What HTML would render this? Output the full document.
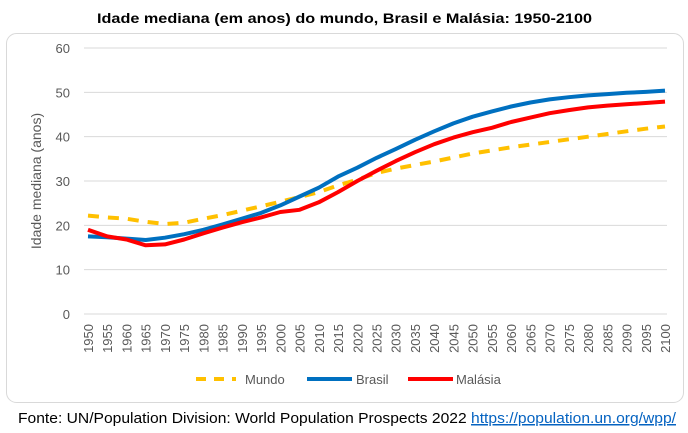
<!DOCTYPE html>
<html><head><meta charset="utf-8"><style>
body{margin:0;width:688px;height:433px;background:#fff;font-family:"Liberation Sans",sans-serif;overflow:hidden;position:relative}
</style></head><body>
<svg width="688" height="433" style="position:absolute;left:0;top:0">
<text x="97" y="23" textLength="495" lengthAdjust="spacingAndGlyphs" font-weight="bold" font-size="14" fill="#000">Idade mediana (em anos) do mundo, Brasil e Malásia: 1950-2100</text>
<rect x="6.5" y="33.5" width="677" height="369" rx="10" fill="none" stroke="#d9d9d9"/>
<g id="grid"></g><g id="yt"></g><g id="xt"></g><g id="lines"></g>
<text transform="translate(41,181) rotate(-90)" text-anchor="middle" font-size="14" fill="#595959">Idade mediana (anos)</text>
<g>
<line x1="196" y1="379" x2="236" y2="379" stroke="#ffc000" stroke-width="4" stroke-dasharray="10,8"/>
<text x="245" y="384" font-size="13" fill="#595959">Mundo</text>
<line x1="307" y1="379" x2="352" y2="379" stroke="#0070c0" stroke-width="4"/>
<text x="356" y="384" font-size="13" fill="#595959">Brasil</text>
<line x1="408" y1="379" x2="453" y2="379" stroke="#ff0000" stroke-width="4"/>
<text x="456" y="384" font-size="13" fill="#595959">Malásia</text>
</g>
<text x="18" y="423" font-size="15" fill="#000" textLength="658" lengthAdjust="spacingAndGlyphs">Fonte: UN/Population Division: World Population Prospects 2022 <tspan fill="#0563c1" text-decoration="underline">https://population.un.org/wpp/</tspan></text>
</svg>
<script>
const years=[1950,1955,1960,1965,1970,1975,1980,1985,1990,1995,2000,2005,2010,2015,2020,2025,2030,2035,2040,2045,2050,2055,2060,2065,2070,2075,2080,2085,2090,2095,2100];
const mundo=[22.2,21.8,21.5,20.8,20.3,20.6,21.5,22.3,23.3,24.3,25.3,26.4,27.5,29.0,30.3,31.8,32.8,33.6,34.4,35.3,36.2,36.9,37.6,38.2,38.8,39.4,40.0,40.6,41.2,41.8,42.3];
const brasil=[17.5,17.3,17.0,16.7,17.2,18.0,19.0,20.2,21.5,22.8,24.5,26.5,28.5,31.0,33.0,35.2,37.2,39.3,41.2,43.0,44.5,45.7,46.8,47.7,48.4,48.9,49.3,49.6,49.9,50.1,50.4];
const malasia=[19.0,17.5,16.8,15.5,15.7,16.8,18.2,19.5,20.7,21.8,23.0,23.5,25.2,27.5,30.0,32.3,34.5,36.5,38.3,39.8,41.0,42.0,43.3,44.3,45.3,46.0,46.6,47.0,47.3,47.6,47.9];
const yTicks=[0,10,20,30,40,50,60];
const NS="http://www.w3.org/2000/svg";
const X=y=>88+(y-1950)*(665-88)/150;
const Y=v=>314-v*(314-48)/60;
function mk(t,a,p){const e=document.createElementNS(NS,t);for(const k in a)e.setAttribute(k,a[k]);document.getElementById(p).appendChild(e);return e;}
yTicks.forEach(v=>{
 const l=mk('line',{x1:84,x2:667,y1:Y(v),y2:Y(v),stroke:'#d9d9d9'},'grid');
 
 
 const t=mk('text',{x:70,y:Y(v)+5,'text-anchor':'end','font-size':13,fill:'#595959'},'yt');
 t.textContent=v;
 
 
});
years.forEach(yr=>{
 const t=mk('text',{transform:`translate(${X(yr)+5},${324}) rotate(-90)`,'text-anchor':'end','font-size':13,fill:'#595959'},'xt');
 t.textContent=yr;
 
 
});
function line(arr,col,dash,name){
 const d=arr.map((v,i)=>(i?'L':'M')+X(years[i]).toFixed(1)+','+Y(v).toFixed(1)).join('');
 const p=mk('path',{d:d,fill:'none',stroke:col,'stroke-width':4,'stroke-linejoin':'round','stroke-dasharray':dash||'none'},'lines');
 
 
}
line(mundo,'#ffc000','11,9','line-mundo');
line(brasil,'#0070c0','','line-brasil');
line(malasia,'#ff0000','','line-malasia');
</script>
</body></html>
